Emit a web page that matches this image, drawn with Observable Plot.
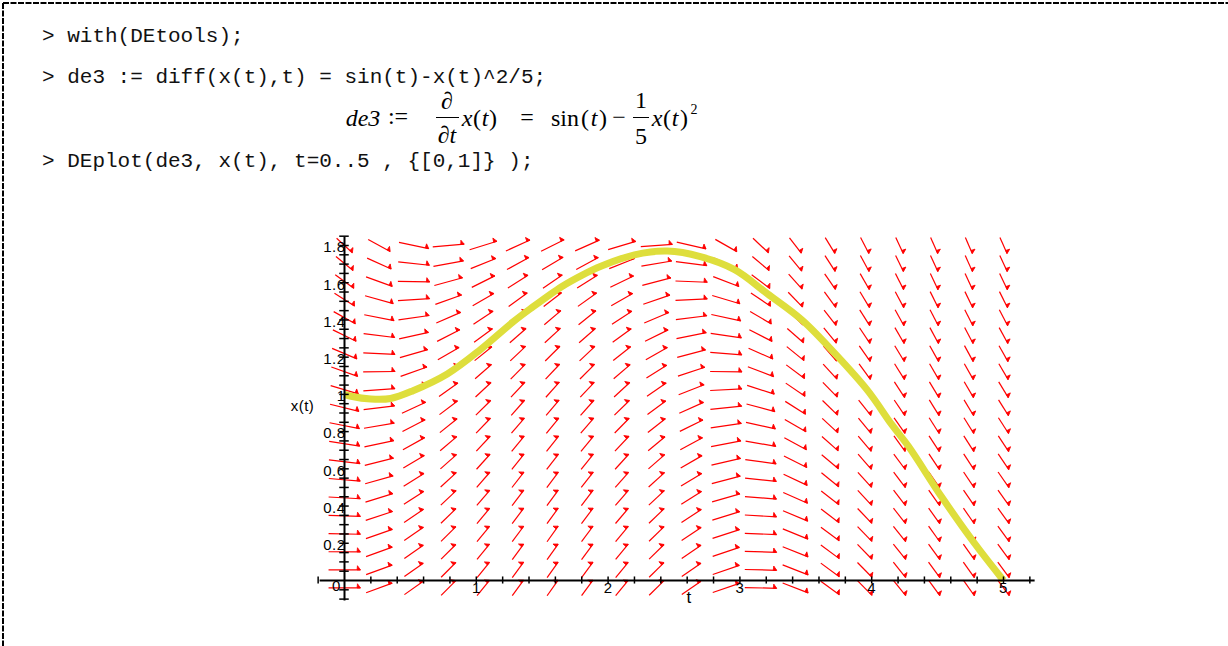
<!DOCTYPE html>
<html><head><meta charset="utf-8">
<script src="https://cdn.jsdelivr.net/npm/d3@7"></script>
<script src="https://cdn.jsdelivr.net/npm/@observablehq/plot@0.6"></script>
<style>
html,body{margin:0;padding:0;background:#fff;width:1228px;height:646px;overflow:hidden;position:relative}
.mono{position:absolute;left:42px;font-family:"Liberation Mono",monospace;font-size:21px;line-height:21px;color:#111;white-space:pre;transform:translateY(-50%)}
.m{position:absolute;font-family:"Liberation Serif",serif;font-size:24px;line-height:24px;white-space:pre;transform:translate(-50%,-50%);color:#000}
.i{font-style:italic}
.bar{position:absolute;height:1px;background:#000}
#chart{position:absolute;left:250px;top:200px}
#chart svg text{letter-spacing:0.5px}
</style></head><body>
<svg id="frame" width="1228" height="646" style="position:absolute;left:0;top:0">
<line x1="3" y1="3" x2="1228" y2="3" stroke="#000" stroke-width="2" stroke-dasharray="6 1.5"/>
<line x1="3" y1="3" x2="3" y2="646" stroke="#000" stroke-width="2" stroke-dasharray="6 1.5"/>
</svg>
<div class="mono" style="top:36px">&gt; with(DEtools);</div>
<div class="mono" style="top:77px">&gt; de3 := diff(x(t),t) = sin(t)-x(t)^2/5;</div>
<div class="mono" style="top:161px">&gt; DEplot(de3, x(t), t=0..5 , {[0,1]} );</div>
<div id="math"></div>
<div id="chart"></div>
<script>
// ---- data ----
const fieldT = [0, 0.263, 0.526, 0.789, 1.053, 1.316, 1.579, 1.842, 2.105, 2.368, 2.632, 2.895, 3.158, 3.421, 3.684, 3.947, 4.211, 4.474, 4.737, 5];
const fieldX = [-0.04, 0.057, 0.154, 0.25, 0.347, 0.444, 0.541, 0.638, 0.735, 0.832, 0.928, 1.025, 1.122, 1.219, 1.316, 1.412, 1.509, 1.606, 1.703, 1.8];
const solT = [0, 0.05, 0.2, 0.35, 0.52, 0.78, 1.03, 1.28, 1.41, 1.65, 1.8, 1.95, 2.2, 2.45, 2.7, 2.96, 3.21, 3.47, 3.72, 3.97, 4.15, 4.28, 4.53, 4.78, 5.0];
const solX = [1.0, 0.99, 0.975, 0.978, 1.02, 1.11, 1.24, 1.39, 1.46, 1.58, 1.64, 1.69, 1.75, 1.77, 1.74, 1.67, 1.54, 1.40, 1.22, 1.02, 0.84, 0.72, 0.45, 0.20, 0.0];
const xTickValues = [0, 1, 2, 3, 4, 5];
const xTickLabels = ["0", "1", "2", "3", "4", "5"];
const yTickValues = [0.2, 0.4, 0.6, 0.8, 1, 1.2, 1.4, 1.6, 1.8];
const yTickLabels = ["0.2", "0.4", "0.6", "0.8", "1", "1.2", "1.4", "1.6", "1.8"];
const xAxisLabel = "t";
const yAxisLabel = "x(t)";

// ---- math line (typeset) ----
const mathParts = [
  ["de3", 363, 118, "i"], [":=", 398, 116, ""],
  ["\u2202", 447, 101, "i"], ["\u2202t", 447, 135, "i"],
  ["x", 467, 118, "i"], ["(", 477, 118, ""], ["t", 485, 118, "i"], [")", 493, 118, ""],
  ["=", 527, 117, ""],
  ["sin", 565, 118, ""], ["(", 585, 118, ""], ["t", 594, 118, "i"], [")", 603, 118, ""],
  ["\u2212", 619, 117, ""],
  ["1", 641, 100, ""], ["5", 641, 136, ""],
  ["x", 657, 118, "i"], ["(", 667, 118, ""], ["t", 675, 118, "i"], [")", 684, 118, ""],
];
const mathDiv = document.getElementById("math");
for (const [txt, x, y, cls] of mathParts) {
  const s = document.createElement("div");
  s.className = "m " + cls; s.textContent = txt;
  s.style.left = x + "px"; s.style.top = y + "px";
  mathDiv.appendChild(s);
}
const sup = document.createElement("div");
sup.className = "m"; sup.textContent = "2"; sup.style.fontSize = "14px";
sup.style.left = "694px"; sup.style.top = "110px"; mathDiv.appendChild(sup);
for (const [l, w] of [[436, 23], [633, 16]]) {
  const b = document.createElement("div"); b.className = "bar";
  b.style.left = l + "px"; b.style.width = w + "px"; b.style.top = "117px"; mathDiv.appendChild(b);
}

// ---- direction field from the displayed ODE: dx/dt = sin(t) - x^2/5 ----
const dT = (fieldT[fieldT.length - 1] - fieldT[0]) / (fieldT.length - 1);
const dX = (fieldX[fieldX.length - 1] - fieldX[0]) / (fieldX.length - 1);
const L = 0.92;
const field = [];
for (const t of fieldT) for (const x of fieldX) {
  const s = Math.sin(t) - x * x / 5;
  const h = L / Math.hypot(1 / dT, s / dX);
  field.push({t1: t - h / 2, x1: x - s * h / 2, t2: t + h / 2, x2: x + s * h / 2});
}
const sol = solT.map((t, i) => ({t, x: solX[i]}));

function mapleHead(color) {
  const ns = "http://www.w3.org/2000/svg";
  const m = document.createElementNS(ns, "marker");
  m.setAttribute("viewBox", "-8 -8 16 16");
  m.setAttribute("markerWidth", 16);
  m.setAttribute("markerHeight", 16);
  m.setAttribute("markerUnits", "userSpaceOnUse");
  m.setAttribute("orient", "auto");
  m.setAttribute("overflow", "visible");
  const p = document.createElementNS(ns, "path");
  p.setAttribute("d", "M0,0L-3,-4.2L-3.4,0Z");
  p.setAttribute("fill", color);
  p.setAttribute("stroke", color);
  p.setAttribute("stroke-width", 0.8);
  m.appendChild(p);
  return m;
}

const xMinor = d3.range(-0.2, 5.21, 0.2).filter(v => Math.abs(v) > 1e-6);
const yMinor = d3.range(-0.1, 1.851, 0.05).filter(v => Math.abs(v) > 1e-6);

const chart = Plot.plot({
  width: 850, height: 430,
  marginLeft: 94, marginRight: 97, marginTop: 45, marginBottom: 50,
  x: {domain: [0, 5], axis: null},
  y: {domain: [0, 1.8], axis: null},
  style: {background: "transparent", overflow: "visible", fontFamily: "Liberation Sans"},
  marks: [
    Plot.link(field, {x1: "t1", y1: "x1", x2: "t2", y2: "x2", stroke: "#ff0000", strokeWidth: 1.2, markerEnd: mapleHead}),
    Plot.line(sol, {x: "t", y: "x", stroke: "#dede3c", strokeWidth: 7, curve: "catmull-rom", strokeLinecap: "butt"}),
    Plot.ruleY([0], {x1: -0.185, x2: 5.24, stroke: "#000", strokeWidth: 2}),
    Plot.ruleX([0], {y1: -0.11, y2: 1.845, stroke: "#000", strokeWidth: 2}),
    Plot.ruleX(xMinor, {y1: -0.019, y2: 0.019, stroke: "#000", strokeWidth: 1.5}),
    Plot.ruleY(yMinor, {x1: -0.036, x2: 0.036, stroke: "#000", strokeWidth: 1.5}),
    Plot.text(yTickValues, {x: 0, y: d => d, text: (d, i) => yTickLabels[i], textAnchor: "end", dx: 1, dy: 2, fontSize: 15, fill: "#000"}),
    Plot.text(xTickValues, {x: d => d, y: 0, text: (d, i) => xTickLabels[i], dy: 8, fontSize: 15, fill: "#000",
      filter: (d) => d !== 0}),
    Plot.text([xTickLabels[0]], {x: xTickValues[0], y: 0, text: d => d, dx: -8, dy: 6, fontSize: 15, fill: "#000"}),
    Plot.text([yAxisLabel], {frameAnchor: "left", text: d => d, dx: -42, dy: -7, textAnchor: "middle", fontSize: 15, fill: "#000"}),
    Plot.text([xAxisLabel], {frameAnchor: "bottom", text: d => d, dx: 15, dy: 22, fontSize: 17, fill: "#000"})
  ]
});
document.getElementById("chart").appendChild(chart);
</script>
</body></html>
